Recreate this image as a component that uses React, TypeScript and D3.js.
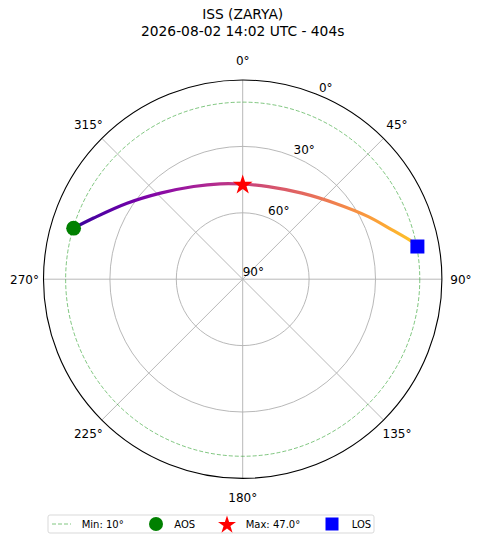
import * as d3 from 'd3';
import React, { useEffect, useRef } from 'react';

const titleLines = ['ISS (ZARYA)', '2026-08-02 14:02 UTC - 404s'];
// pass track (azimuth deg, elevation deg)
const passAzimuth = [286.8, 292.3, 303.3, 316.3, 332.1, 346.7, 0.0, 15.5, 34.5, 50.5, 63.5, 71.6, 77.4, 79.4];
const passElevation = [10.2, 17.2, 27.5, 36.2, 42.6, 45.7, 47.0, 46.6, 42.8, 36.0, 26.6, 19.1, 11.8, 9.7];
const azimuthTicks = [0, 45, 90, 135, 180, 225, 270, 315];
const elevationRings = [0, 30, 60, 90];
const minElevation = 10;
const maxElevation = 47.0;
const legendLabels = ['Min: 10°', 'AOS', 'Max: 47.0°', 'LOS'];

const App: React.FC = () => {
  const ref = useRef<SVGSVGElement>(null);

  useEffect(() => {
    if (!ref.current) return;
    const width = 480;
    const height = 543;
    const cx = 242.7;
    const cy = 279.2;
    const R = 199.2;
    const font = 'DejaVu Sans, sans-serif';

    const svg = d3.select(ref.current);
    svg.selectAll('*').remove();
    svg.attr('width', width).attr('height', height);

    const r = d3.scaleLinear().domain([90, 0]).range([0, R]);
    const rad = (az: number) => ((az > 180 ? az - 360 : az) * Math.PI) / 180;
    const px = (az: number, el: number) => cx + r(el) * Math.sin(rad(az));
    const py = (az: number, el: number) => cy - r(el) * Math.cos(rad(az));

    // title
    svg.selectAll('text.title')
      .data(titleLines)
      .enter()
      .append('text')
      .attr('class', 'title')
      .attr('x', cx)
      .attr('y', (d, i) => 19 + i * 17)
      .attr('text-anchor', 'middle')
      .style('font-family', font)
      .style('font-size', '13.8px')
      .text(d => d);

    const g = svg.append('g').attr('transform', `translate(${cx},${cy})`);

    // radial gridlines
    g.selectAll('line.spoke')
      .data(azimuthTicks)
      .enter()
      .append('line')
      .attr('x1', 0)
      .attr('y1', 0)
      .attr('x2', d => R * Math.sin((d * Math.PI) / 180))
      .attr('y2', d => -R * Math.cos((d * Math.PI) / 180))
      .attr('stroke', '#b0b0b0')
      .attr('stroke-width', 0.9);

    // elevation rings
    g.selectAll('circle.ring')
      .data(elevationRings.filter(d => d > 0 && d < 90))
      .enter()
      .append('circle')
      .attr('r', d => r(d))
      .attr('fill', 'none')
      .attr('stroke', '#b0b0b0')
      .attr('stroke-width', 0.9);

    // min elevation
    g.append('circle')
      .attr('r', r(minElevation))
      .attr('fill', 'none')
      .attr('stroke', '#2ca02c')
      .attr('stroke-opacity', 0.6)
      .attr('stroke-width', 1)
      .attr('stroke-dasharray', '4,2');

    // outer spine
    g.append('circle')
      .attr('r', R)
      .attr('fill', 'none')
      .attr('stroke', 'black')
      .attr('stroke-width', 1.1);

    // azimuth labels
    g.selectAll('text.az')
      .data(azimuthTicks)
      .enter()
      .append('text')
      .attr('x', d => (R + 19) * Math.sin((d * Math.PI) / 180))
      .attr('y', d => -(R + 19) * Math.cos((d * Math.PI) / 180))
      .attr('dy', '0.36em')
      .attr('text-anchor', 'middle')
      .style('font-family', font)
      .style('font-size', '12px')
      .text(d => `${d}°`);

    // elevation labels
    const la = (22.5 * Math.PI) / 180;
    g.selectAll('text.el')
      .data(elevationRings)
      .enter()
      .append('text')
      .attr('x', d => r(d) * Math.sin(la))
      .attr('y', d => -r(d) * Math.cos(la) - 3)
      .style('font-family', font)
      .style('font-size', '12px')
      .text(d => `${d}°`);

    // gradient along pass
    const x0 = px(passAzimuth[0], passElevation[0]);
    const x1 = px(passAzimuth[passAzimuth.length - 1], passElevation[passElevation.length - 1]);
    const grad = svg.append('defs')
      .append('linearGradient')
      .attr('id', 'passGrad')
      .attr('gradientUnits', 'userSpaceOnUse')
      .attr('x1', x0 - cx)
      .attr('x2', x1 - cx)
      .attr('y1', 0)
      .attr('y2', 0);
    d3.range(11).forEach(i => {
      grad.append('stop')
        .attr('offset', i / 10)
        .attr('stop-color', d3.interpolatePlasma(0.08 + 0.8 * (i / 10)));
    });

    const track = passAzimuth.map((az, i) => ({ az, el: passElevation[i] }));
    const line = d3.lineRadial<{ az: number; el: number }>()
      .angle(d => rad(d.az))
      .radius(d => r(d.el))
      .curve(d3.curveCatmullRom);

    g.append('path')
      .datum(track)
      .attr('d', line)
      .attr('fill', 'none')
      .attr('stroke', 'url(#passGrad)')
      .attr('stroke-width', 3.2)
      .attr('stroke-linecap', 'round');

    const first = track[0];
    const last = track[track.length - 1];
    const peak = track[d3.maxIndex(track, d => d.el)];

    svg.append('circle')
      .attr('cx', px(first.az, first.el))
      .attr('cy', py(first.az, first.el))
      .attr('r', 7.4)
      .attr('fill', 'green');

    svg.append('path')
      .attr('d', d3.symbol(d3.symbolStar, 122)())
      .attr('transform', `translate(${px(peak.az, maxElevation)},${py(peak.az, maxElevation) + 1})`)
      .attr('fill', 'red');

    svg.append('rect')
      .attr('x', px(last.az, last.el) - 7)
      .attr('y', py(last.az, last.el) - 7)
      .attr('width', 14)
      .attr('height', 14)
      .attr('fill', 'blue');

    // legend
    const lg = svg.append('g').attr('transform', 'translate(48,515)');
    lg.append('rect')
      .attr('width', 326)
      .attr('height', 18)
      .attr('rx', 2)
      .attr('fill', 'white')
      .attr('stroke', '#d5d5d5')
      .attr('stroke-width', 0.9);
    const my = 9;
    lg.append('line')
      .attr('x1', 4)
      .attr('x2', 23)
      .attr('y1', my)
      .attr('y2', my)
      .attr('stroke', '#2ca02c')
      .attr('stroke-opacity', 0.6)
      .attr('stroke-dasharray', '4,2');
    lg.append('circle').attr('cx', 108).attr('cy', my).attr('r', 7).attr('fill', 'green');
    lg.append('path')
      .attr('d', d3.symbol(d3.symbolStar, 100)())
      .attr('transform', `translate(179,${my + 1})`)
      .attr('fill', 'red');
    lg.append('rect').attr('x', 277.5).attr('y', my - 6.5).attr('width', 13).attr('height', 13).attr('fill', 'blue');

    const textX = [33.7, 126.3, 197.7, 303.7];
    lg.selectAll('text')
      .data(legendLabels)
      .enter()
      .append('text')
      .attr('x', (d, i) => textX[i])
      .attr('y', my)
      .attr('dy', '0.35em')
      .style('font-family', font)
      .style('font-size', '10px')
      .text(d => d);
  }, []);

  return <svg ref={ref} style={{ position: 'absolute', left: 0, top: 0 }} />;
};

export default App;
